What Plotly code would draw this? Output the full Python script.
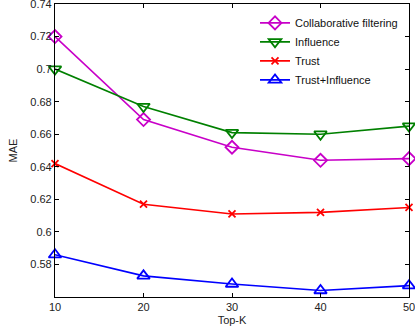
import plotly.graph_objects as go

top_k = [10, 20, 30, 40, 50]
cf = [0.720, 0.669, 0.652, 0.644, 0.645]
influence = [0.700, 0.677, 0.661, 0.660, 0.665]
trust = [0.642, 0.617, 0.611, 0.612, 0.615]
trust_influence = [0.586, 0.573, 0.568, 0.564, 0.567]

series = [
    ("Collaborative filtering", cf, "#C800C8", "diamond-open", 10),
    ("Influence", influence, "#008000", "triangle-down-open", 11),
    ("Trust", trust, "#FF0000", "x-thin-open", 7),
    ("Trust+Influence", trust_influence, "#0000FF", "triangle-up-open", 11),
]

fig = go.Figure()
for name, vals, color, sym, size in series:
    fig.add_trace(go.Scatter(
        x=top_k, y=vals, name=name, mode="lines+markers",
        line=dict(color=color, width=1.6),
        marker=dict(symbol=sym, size=size, color=color,
                    line=dict(color=color, width=1.8)),
        cliponaxis=False,
    ))

FONT = "Liberation Sans, Arial"
axis_common = dict(
    showline=True, linecolor="black", linewidth=1.2, mirror="ticks",
    ticks="inside", ticklen=4, tickcolor="black", showgrid=False,
    zeroline=False, tickfont=dict(family=FONT, size=11, color="#222"),
    ticklabeloverflow="allow", automargin=False,
)
fig.update_xaxes(range=[10, 50], tickvals=top_k, title=dict(text="Top-K", standoff=4,
                 font=dict(family=FONT, size=11, color="#222")), **axis_common)
fig.update_yaxes(range=[0.56, 0.74], tickvals=[0.58, 0.60, 0.62, 0.64, 0.66, 0.68, 0.70, 0.72, 0.74],
                 ticktext=["0.58", "0.6", "0.62", "0.64", "0.66", "0.68", "0.7", "0.72", "0.74"],
                 title=dict(text="MAE", standoff=10,
                 font=dict(family=FONT, size=11, color="#222")), **axis_common)

fig.update_layout(
    width=415, height=333,
    margin=dict(l=55, r=6, t=4, b=36),
    paper_bgcolor="white", plot_bgcolor="white",
    font=dict(family=FONT, size=11, color="#222"),
    legend=dict(x=0.565, y=0.985, xanchor="left", yanchor="top",
                bgcolor="rgba(0,0,0,0)", borderwidth=0,
                font=dict(size=11, color="#111"), itemwidth=30, tracegroupgap=0),
    showlegend=True,
)

fig.write_html("out.html", config={"displayModeBar": False},
               post_script="document.body.style.margin='0';document.body.style.overflow='hidden';")
